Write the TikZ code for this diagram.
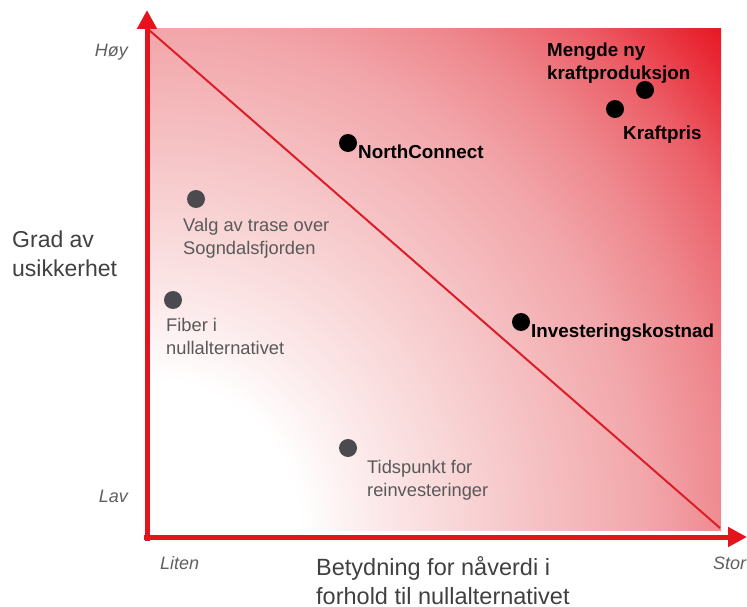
\documentclass[tikz,border=0pt]{standalone}
\usepackage{fontspec}
\setmainfont{Liberation Sans}
\usetikzlibrary{arrows.meta}

\definecolor{axisred}{HTML}{E3141C}
\definecolor{diagred}{HTML}{DC1E28}
\definecolor{dotgray}{HTML}{4A4A4F}
\definecolor{labelgray}{HTML}{595959}
\definecolor{titlegray}{HTML}{404040}
\definecolor{scalegray}{HTML}{5F5F5F}
\definecolor{glowA}{HTML}{FCE8E9}
\definecolor{glowB}{HTML}{F9D8D9}
\definecolor{glowC}{HTML}{F6C4C6}
\definecolor{glowD}{HTML}{F2A6AA}
\definecolor{glowE}{HTML}{EE888E}
\definecolor{glowF}{HTML}{EC5F68}
\definecolor{glowG}{HTML}{E82531}
\definecolor{glowH}{HTML}{E6141F}

% glow that grows from white (low/small corner) to red (high/large corner)
\pgfdeclareradialshading{riskglow}{\pgfpointorigin}{%
  color(0bp)=(white); color(4.9bp)=(white); color(7.5bp)=(glowA);
  color(9.7bp)=(glowB); color(12.3bp)=(glowC); color(16.2bp)=(glowD);
  color(18.8bp)=(glowE); color(21.4bp)=(glowF); color(24bp)=(glowG);
  color(25bp)=(glowH); color(50bp)=(glowH)}

\tikzset{
  blackdot/.style={circle, fill=black, inner sep=0pt, minimum size=18pt},
  graydot/.style={circle, fill=dotgray, inner sep=0pt, minimum size=18pt},
  boldlabel/.style={font=\fontsize{18.8}{23}\selectfont\bfseries, text=black,
    inner sep=0pt, align=left},
  graylabel/.style={font=\fontsize{18.3}{22.5}\selectfont, text=labelgray,
    inner sep=0pt, anchor=north west, align=left},
  scalelabel/.style={font=\fontsize{18}{22}\selectfont\itshape, text=scalegray,
    inner sep=0pt},
  axistitle/.style={text=titlegray, inner sep=0pt, anchor=north west, align=left},
  axisline/.style={draw=axisred, line width=5pt,
    -{Triangle[length=19pt, width=19pt]}},
}

\begin{document}
\begin{tikzpicture}[x=1pt, y=-1pt]
  \useasboundingbox (0,0) rectangle (747,607);

  % shaded field
  \begin{scope}
    \clip (149,29) rectangle (721,530);
    \shade[shading=riskglow] (-621,-240) rectangle (919,1300);
  \end{scope}

  % corners of the field
  \coordinate (topleft) at (149,30);
  \coordinate (botright) at (720,528);
  \coordinate (origin) at (147,541);
  \coordinate (xstart) at (144,537);
  \coordinate (ytip) at (147,10);
  \coordinate (xtip) at (747,537);

  % diagonal
  \draw[diagred, line width=2pt] (topleft) -- (botright);

  % axes
  \draw[axisline] (origin) -- (ytip);
  \draw[axisline] (xstart) -- (xtip);

  % scale labels
  \node[scalelabel, anchor=base east] (hoy) at (128,56.5) {Høy};
  \node[scalelabel, anchor=base east] (lav) at (128,502.5) {Lav};
  \node[scalelabel, anchor=base west] (liten) at (160,569.5) {Liten};
  \node[scalelabel, anchor=base west] (stor) at (713,569.5) {Stor};

  % axis titles
  \node[axistitle, font=\fontsize{23}{29}\selectfont] (ytitle) at (12,230.7)
    {Grad av\\usikkerhet};
  \node[axistitle, font=\fontsize{23.5}{28.5}\selectfont, text depth=0pt]
    (xtitle) at (316,556.5)
    {Betydning for nåverdi i\\forhold til nullalternativet};

  % high-impact items
  \node[blackdot] (mengde) at (645,90) {};
  \node[boldlabel, anchor=north west] (mengdetxt) at (547,42.2)
    {Mengde ny\\kraftproduksjon};
  \node[blackdot] (pris) at (615,109) {};
  \node[boldlabel, anchor=base west] (pristxt) at (623,139.8) {Kraftpris};
  \node[blackdot] (nc) at (348,143) {};
  \node[boldlabel, anchor=base west] (nctxt) at (358,158.8) {NorthConnect};
  \node[blackdot] (inv) at (521,322) {};
  \node[boldlabel, anchor=base west] (invtxt) at (531,337.8) {Investeringskostnad};

  % low-impact items
  \node[graydot] (valg) at (196,199) {};
  \node[graylabel] (valgtxt) at (183,218.4) {Valg av trase over\\Sogndalsfjorden};
  \node[graydot] (fiber) at (173,300) {};
  \node[graylabel] (fibertxt) at (166,318.4) {Fiber i\\nullalternativet};
  \node[graydot] (tid) at (348,448) {};
  \node[graylabel] (tidtxt) at (367,460.4) {Tidspunkt for\\reinvesteringer};
\end{tikzpicture}
\end{document}
